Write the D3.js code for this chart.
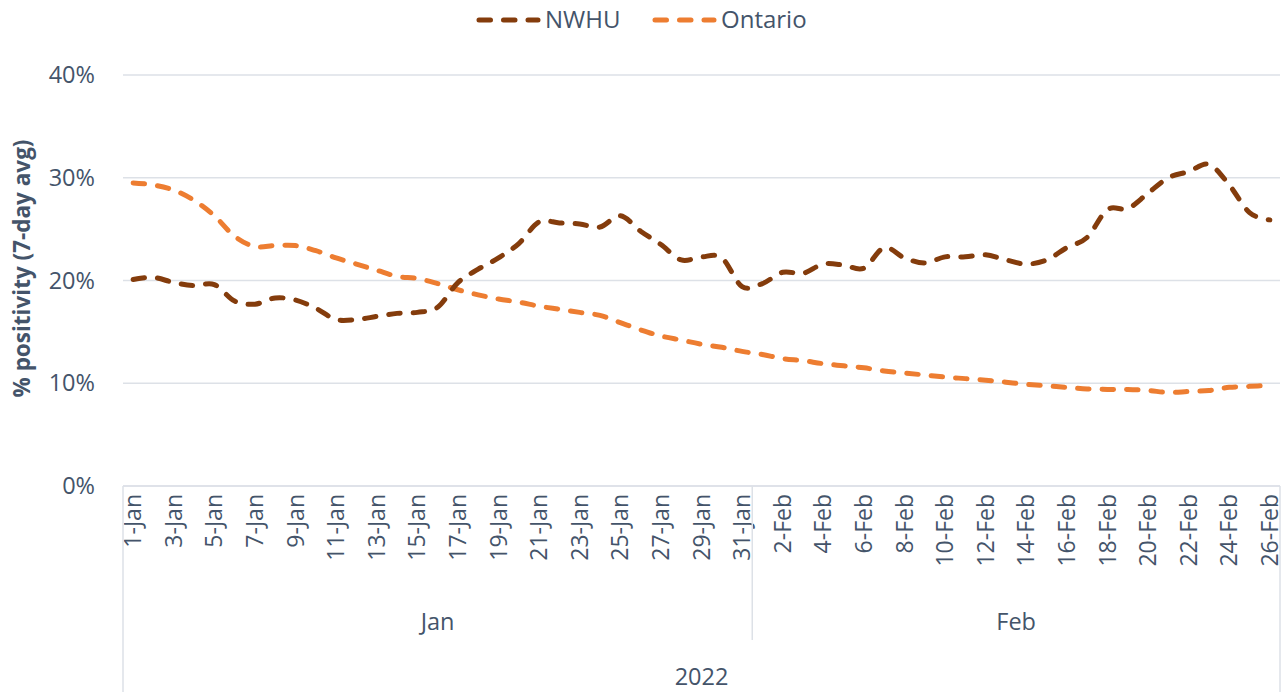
<!DOCTYPE html>
<html><head><meta charset="utf-8">
<script src="https://cdn.jsdelivr.net/npm/d3@7"></script>
<style>body{margin:0;background:#fff}svg{display:block}text{font-family:"Open Sans",sans-serif;fill:#44546a}</style>
</head><body><svg id="c" width="1285" height="692"></svg>
<script>
const dates = ["1-Jan","2-Jan","3-Jan","4-Jan","5-Jan","6-Jan","7-Jan","8-Jan","9-Jan","10-Jan","11-Jan","12-Jan","13-Jan","14-Jan","15-Jan","16-Jan","17-Jan","18-Jan","19-Jan","20-Jan","21-Jan","22-Jan","23-Jan","24-Jan","25-Jan","26-Jan","27-Jan","28-Jan","29-Jan","30-Jan","31-Jan",
"1-Feb","2-Feb","3-Feb","4-Feb","5-Feb","6-Feb","7-Feb","8-Feb","9-Feb","10-Feb","11-Feb","12-Feb","13-Feb","14-Feb","15-Feb","16-Feb","17-Feb","18-Feb","19-Feb","20-Feb","21-Feb","22-Feb","23-Feb","24-Feb","25-Feb","26-Feb"];
const months = ["Jan","Feb"];
const monthDays = [31,26];
const yearLabel = "2022";
const nwhu = [20.1,20.3,19.8,19.5,19.6,18.0,17.7,18.3,18.1,17.3,16.2,16.2,16.5,16.8,16.9,17.4,19.8,21.1,22.2,23.6,25.7,25.6,25.5,25.2,26.3,24.8,23.5,22.0,22.3,22.2,19.4,
19.7,20.8,20.7,21.6,21.5,21.2,23.2,22.2,21.7,22.3,22.3,22.5,22.0,21.6,22.0,23.2,24.2,26.9,27.0,28.5,30.0,30.6,31.3,29.3,26.6,25.9];
const ontario = [29.5,29.3,28.8,27.8,26.3,24.3,23.3,23.4,23.4,22.9,22.2,21.6,21.0,20.4,20.2,19.7,19.1,18.6,18.2,17.9,17.5,17.2,16.9,16.6,15.9,15.2,14.6,14.2,13.8,13.5,13.1,
12.8,12.4,12.2,11.9,11.7,11.5,11.2,11.0,10.8,10.6,10.45,10.3,10.1,9.9,9.75,9.6,9.45,9.4,9.4,9.3,9.1,9.2,9.3,9.6,9.7,9.8];
const yTicks = [0,10,20,30,40];
const seriesNames = ["NWHU","Ontario"];
const colors = ["#843c0c","#ed7d31"];

const svg = d3.select("#c");
const L = 123, R = 1280, T = 75, B = 486;
const x = d3.scaleBand().domain(dates).range([L,R]).padding(0);
const y = d3.scaleLinear().domain([0,40]).range([B,T]);
const gridC = "#dde1e7";

svg.append("g").selectAll("line").data(yTicks).join("line")
  .attr("x1",L).attr("x2",R).attr("y1",d=>y(d)).attr("y2",d=>y(d))
  .attr("stroke",gridC).attr("stroke-width",1.5);

svg.append("g").selectAll("text").data(yTicks).join("text")
  .attr("x",95).attr("y",d=>y(d)).attr("dy","0.35em").attr("text-anchor","end")
  .style("font-size","23.5px").text(d=>d+"%");

svg.append("text").attr("transform",`translate(30,${(T+B)/2-12}) rotate(-90)`)
  .attr("text-anchor","middle").style("font-size","22.5px").style("font-weight","bold")
  .text("% positivity (7-day avg)");

const xl = svg.append("g");
xl.selectAll("text").data(dates.filter((d,i)=>i%2===0)).join("text")
  .attr("transform",d=>`translate(${x(d)+x.bandwidth()/2},494) rotate(-90)`)
  .attr("text-anchor","end").attr("dy","0.35em")
  .style("font-size","23px").text(d=>d);

const mStart = [0, monthDays[0]];
const sep = svg.append("g").attr("stroke",gridC).attr("stroke-width",1.5);
sep.append("line").attr("x1",L).attr("x2",L).attr("y1",B).attr("y2",692);
sep.append("line").attr("x1",R).attr("x2",R).attr("y1",B).attr("y2",692);
sep.append("line").attr("x1",x(dates[mStart[1]])).attr("x2",x(dates[mStart[1]])).attr("y1",B).attr("y2",640);
sep.append("line").attr("x1",L).attr("x2",R).attr("y1",B).attr("y2",B);

months.forEach((m,i)=>{
  const a = x(dates[mStart[i]]);
  const b = x(dates[mStart[i]+monthDays[i]-1]) + x.bandwidth();
  svg.append("text").attr("x",(a+b)/2).attr("y",622).attr("dy","0.35em")
    .attr("text-anchor","middle").style("font-size","23.5px").text(m);
});
svg.append("text").attr("x",(L+R)/2).attr("y",677).attr("dy","0.35em")
  .attr("text-anchor","middle").style("font-size","23.5px").text(yearLabel);

const line = d3.line().x((d,i)=>x(dates[i])+x.bandwidth()/2).y(d=>y(d)).curve(d3.curveCardinal.tension(0));
[ontario, nwhu].forEach((s,k)=>{
  const c = k===0 ? colors[1] : colors[0];
  svg.append("path").attr("d",line(s)).attr("fill","none").attr("stroke",c)
    .attr("stroke-width",5).attr("stroke-linecap","round").attr("stroke-dasharray","11.5,13");
});

const lg = svg.append("g");
const legX = [476, 652];
seriesNames.forEach((n,i)=>{
  lg.append("line").attr("x1",legX[i]+3).attr("x2",legX[i]+62).attr("y1",20).attr("y2",20)
    .attr("stroke",colors[i]).attr("stroke-width",5).attr("stroke-linecap","round").attr("stroke-dasharray","11.5,13");
  lg.append("text").attr("x",legX[i]+69).attr("y",20).attr("dy","0.35em")
    .style("font-size","24px").text(n);
});
</script></body></html>
